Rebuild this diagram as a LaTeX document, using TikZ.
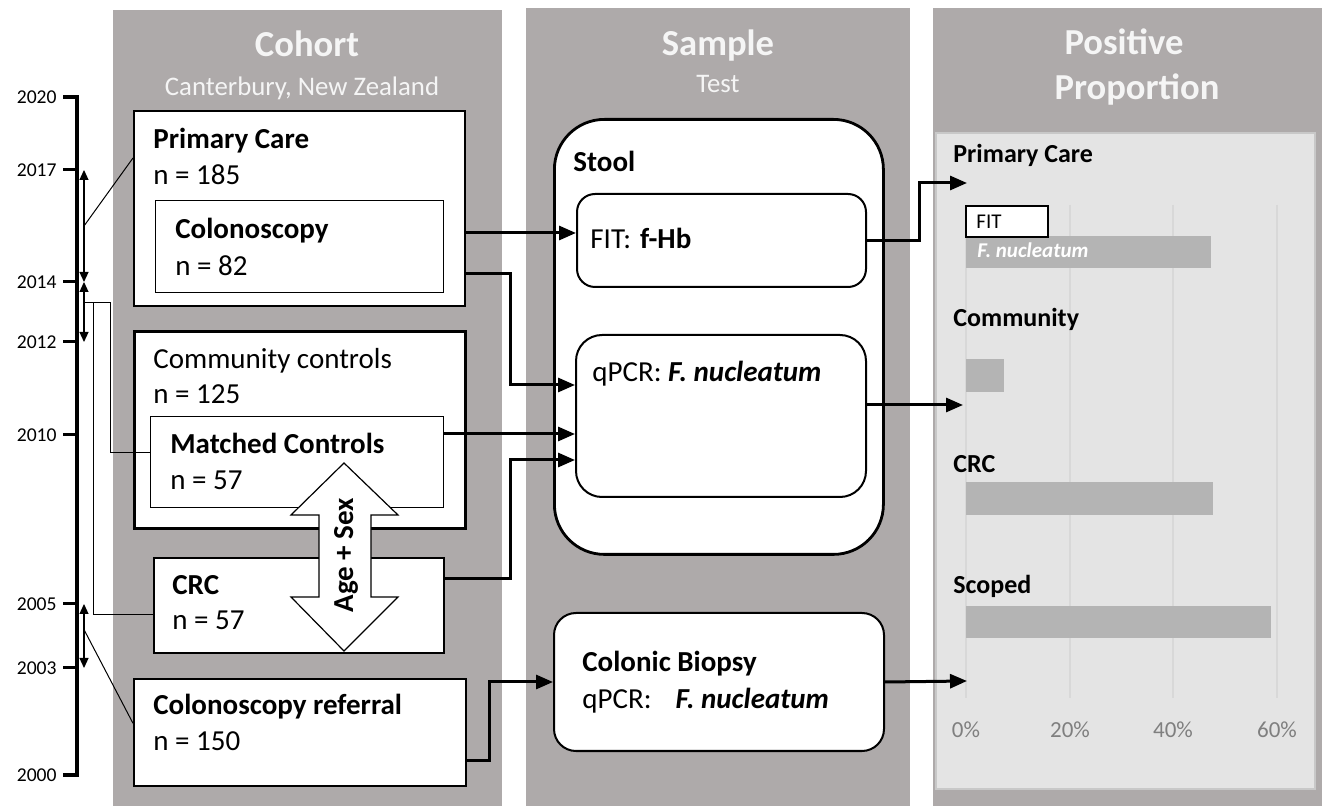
\documentclass[tikz,border=0pt]{standalone}
\usepackage{fontspec}
\setmainfont{Carlito}
\usetikzlibrary{arrows.meta,calc}
\definecolor{pnlG}{HTML}{AEAAAA}
\definecolor{chtBG}{HTML}{E4E4E4}
\definecolor{chtLn}{HTML}{C8C8C8}
\definecolor{grdG}{HTML}{D8D8D8}
\definecolor{barG}{HTML}{B4B4B4}
\definecolor{tckG}{HTML}{7F7F7F}
\definecolor{hdW}{HTML}{F5F5F5}
\tikzset{
  sz/.style 2 args={minimum width=#1*0.5pt,minimum height=#2*0.5pt},
  cbox/.style={draw,fill=white,anchor=north west,inner sep=0pt,line width=#1},
  rbox/.style={draw,fill=white,anchor=north west,inner sep=0pt,line width=1pt,rounded corners=#1},
  txt/.style={anchor=base west,inner sep=0pt,font=\fontsize{14.5}{17}\selectfont},
  btxt/.style={anchor=base west,inner sep=0pt,font=\fontsize{14.5}{17}\selectfont\bfseries},
  ttl/.style={anchor=base,inner sep=0pt,text=hdW,font=\fontsize{18.3}{21}\selectfont\bfseries},
  sttl/.style={anchor=base,inner sep=0pt,text=hdW,font=\fontsize{13.4}{16}\selectfont},
  yr/.style={anchor=east,inner sep=0pt,font=\fontsize{9.8}{11}\selectfont},
  flow/.style={line width=1.5pt,-{Triangle[length=8.5pt,width=7pt]}},
  span/.style={line width=0.6pt,{Triangle[length=5pt,width=4.5pt]}-{Triangle[length=5pt,width=4.5pt]}},
  lnk/.style={line width=0.5pt},
  clab/.style={anchor=base west,inner sep=0pt,font=\fontsize{13}{15}\selectfont\bfseries},
  tck/.style={anchor=center,inner sep=0pt,text=tckG,font=\fontsize{11.5}{13}\selectfont},
  blab/.style={anchor=base west,inner sep=0pt,font=\fontsize{10.5}{12}\selectfont}
}

\begin{document}
\begin{tikzpicture}[x=0.5pt,y=-0.5pt]
\useasboundingbox (0,0) rectangle (1324,807);
% panels
\fill[pnlG] (113,10) rectangle (502,806);
\fill[pnlG] (526,8) rectangle (910,806);
\fill[pnlG] (933,8) rectangle (1322,806);
\filldraw[fill=chtBG,draw=chtLn,line width=0.6pt] (936,133) rectangle (1315,789);
\node[ttl] (hcoh) at (307,57) {Cohort};
\node[sttl] (hcant) at (302,96) {Canterbury, New Zealand};
\node[ttl] (hsam) at (718,56) {Sample};
\node[sttl] (htest) at (718,93) {Test};
\node[ttl] (hpos) at (1124,55) {Positive};
\node[ttl] (hprop) at (1137,100) {Proportion};

% time line
\draw[line width=2pt] (63,97) -- (77,97) -- (77,775) -- (63,775);
\foreach \yr/\yy in {2020/97,2017/170,2014/282,2012/342,2010/435,2005/604,2003/668,2000/775}{
  \draw[line width=1.5pt] (63,\yy) -- (77,\yy);
  \node[yr] (y\yr) at (57,\yy) {\yr};
  \coordinate (t\yr) at (84,\yy);
}
\draw[span] (t2017) -- (t2014);
\draw[span] (t2014) -- (t2012);
\draw[span] (t2005) -- (t2003);

% cohort
\node[cbox=0.9pt,sz={331}{195}] (pc) at (133,110) {};
\node[cbox=0.6pt,sz={288}{92}] (colo) at (155,200) {};
\node[cbox=1.3pt,sz={331}{197}] (comm) at (133,330) {};
\node[cbox=0.6pt,sz={293}{91}] (match) at (150,416) {};
\node[cbox=0.8pt,sz={290}{95}] (crc) at (153,557) {};
\node[cbox=0.8pt,sz={332}{107}] (ref) at (133,678) {};
\node[btxt] (pct) at (153,149) {Primary Care};
\node[txt] (pcn) at (153,185) {n = 185};
\node[btxt] (colot) at (175,239) {Colonoscopy};
\node[txt] (colon) at (175,276) {n = 82};
\node[txt] (commt) at (153,369) {Community controls};
\node[txt] (commn) at (153,404) {n = 125};
\node[btxt] (matcht) at (170,454) {Matched Controls};
\node[txt] (matchn) at (170,490) {n = 57};
\node[btxt] (crct) at (172,595) {CRC};
\node[txt] (crcn) at (172,630) {n = 57};
\node[btxt] (reft) at (153,715) {Colonoscopy referral};
\node[txt] (refn) at (153,750) {n = 150};

% links to time line
\coordinate (brk) at ($(t2014)!0.35!(t2012)$);
\draw[lnk] ($(t2017)!0.5!(t2014)$) -- ($(pc.north west)+(0,48)$);
\draw[lnk] (brk) -- ++(26,0) |- ($(match.west)+(0,-10)$);
\draw[lnk] (brk) -- ++(9,0) |- ($(crc.west)+(0,9)$);
\draw[lnk] ($(t2005)!0.4!(t2003)$) -- ($(ref.west)+(0,-9)$);

% sample
\node[rbox=25pt,line width=1.4pt,sz={329}{435}] (stool) at (553,118) {};
\node[rbox=9pt,sz={289}{93}] (fit) at (576,193) {};
\node[rbox=13pt,sz={290}{162}] (qpcr) at (575,334) {};
\node[rbox=11pt,sz={330}{138}] (biop) at (553,612) {};
\node[btxt] (stoolt) at (573,172) {Stool};
\node[txt] (fitt) at (590,249) {FIT:\hspace{4.5pt}\textbf{f-Hb}};
\node[txt] (qpcrt) at (592,382) {qPCR: \textbf{\textit{F. nucleatum}}};
\node[btxt] (biopt) at (582,672) {Colonic Biopsy};
\node[txt] (biopq) at (582,709) {qPCR:\hspace{12pt}\textbf{\textit{F. nucleatum}}};

% chart
\foreach \gx in {966,1070,1173,1277} \draw[grdG,line width=0.6pt] (\gx,205) -- (\gx,698);
\foreach \gx/\gp in {966/0,1070/20,1173/40,1277/60} \node[tck] (tk\gp) at (\gx,730) {\gp\%};
\node[clab] (cpc) at (953,163) {Primary Care};
\node[clab] (ccomm) at (953,327) {Community};
\node[clab] (ccrc) at (953,473) {CRC};
\node[clab] (cscp) at (953,594) {Scoped};
\fill[barG] (966,236) rectangle (1211,268);
\node[blab,text=white,font=\fontsize{10.5}{12}\selectfont\bfseries\itshape] (fnl) at (977,258) {F. nucleatum};
\draw[fill=white,line width=0.7pt] (966,206) rectangle (1048,237);
\node[blab] (fitl) at (976,229) {FIT};
\fill[barG] (966,359) rectangle (1004,392);
\fill[barG] (966,482) rectangle (1213,515);
\fill[barG] (966,606) rectangle (1271,638);
\coordinate (pcin) at (967,183);
\coordinate (cmin) at (963,405);
\coordinate (scin) at (967,681);

% arrows
\coordinate (fitin) at ($(fit.west)+(0,-7.5)$);
\coordinate (qin2) at ($(qpcr.west)+(0,18)$);
\draw[flow] (pc.east |- fitin) -- (fitin);
\draw[flow] ($(pc.east)+(0,65.5)$) -- ++(45,0) |- ($(qpcr.west)+(0,-31)$);
\draw[flow] (match.east |- qin2) -- (qin2);
\draw[flow] ($(crc.east)+(0,-26.5)$) -- ++(66,0) |- ($(qpcr.west)+(0,44)$);
\draw[flow] ($(ref.east)+(0,28.5)$) -- ++(23,0) |- (biop.west);
\draw[flow] (fit.east) -- ++(52,0) |- (pcin);
\draw[flow] (qpcr.east |- cmin) -- (cmin);
\draw[flow] (biop.east) -- (scin);

% age + sex
\draw[fill=white,line width=0.6pt] (344,463) -- (398,515) -- (371,515) -- (371,597) -- (398,597) -- (344,651) -- (291,597) -- (319,597) -- (319,515) -- (291,515) -- cycle;
\node[rotate=90,inner sep=0pt,font=\fontsize{14.5}{17}\selectfont\bfseries] (agesex) at (346,555) {Age + Sex};
\end{tikzpicture}
\end{document}
